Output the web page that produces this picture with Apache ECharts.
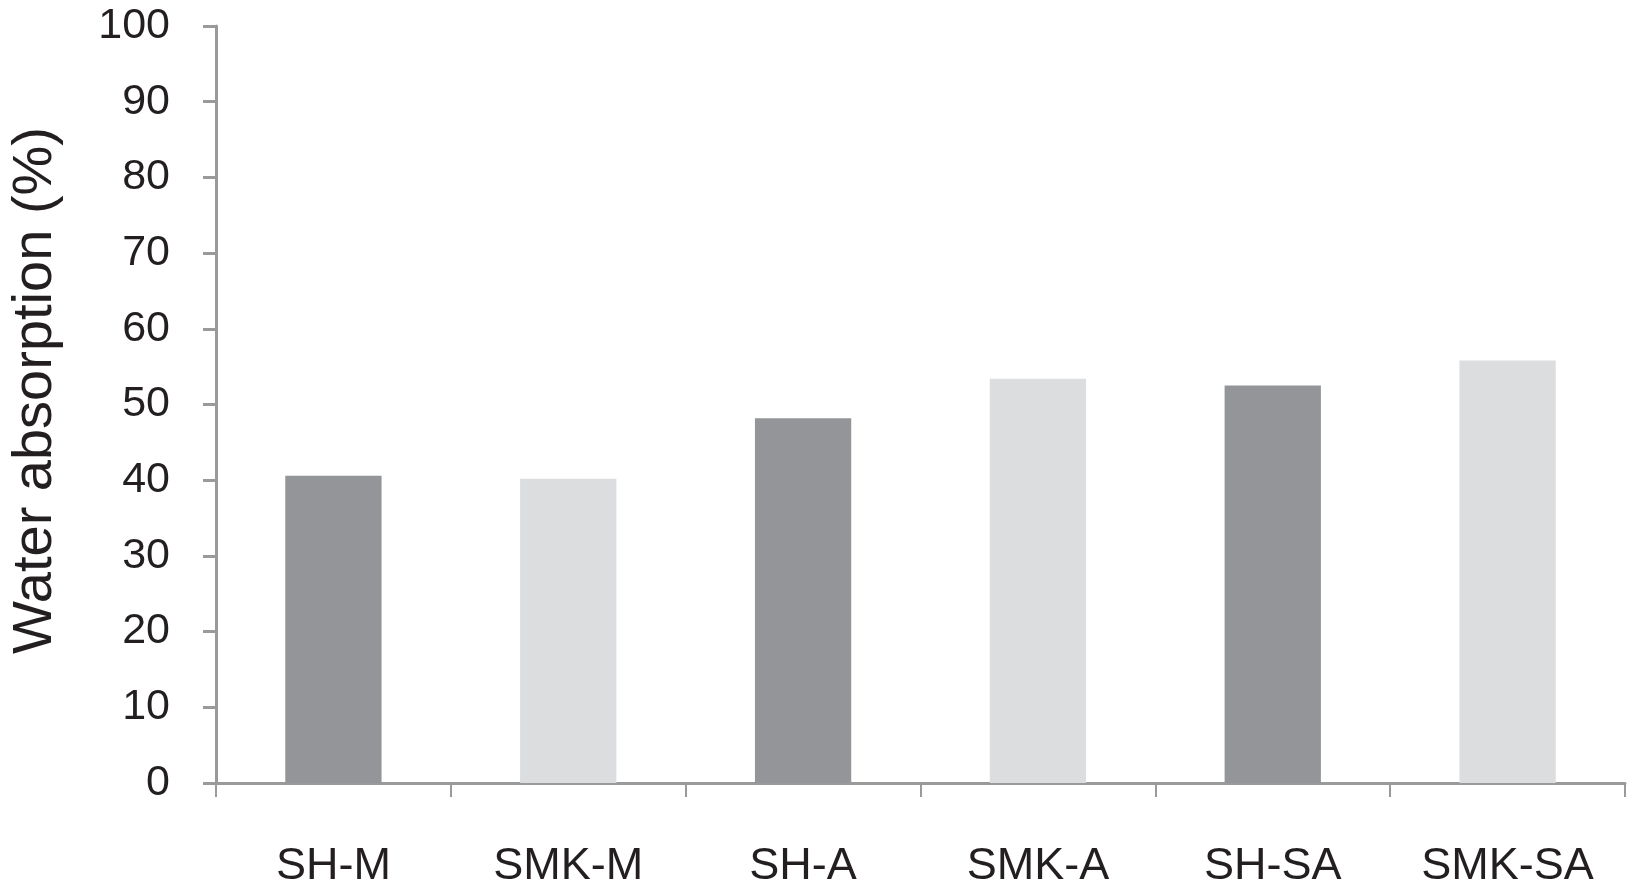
<!DOCTYPE html>
<html>
<head>
<meta charset="utf-8">
<script src="https://cdn.jsdelivr.net/npm/echarts@6/dist/echarts.min.js"></script>
<style>
html,body{margin:0;padding:0;background:#fff;}
#chart{width:1627px;height:893px;}
</style>
</head>
<body>
<div id="chart"></div>
<script>
const categories = ['SH-M', 'SMK-M', 'SH-A', 'SMK-A', 'SH-SA', 'SMK-SA'];
const values = [40.6, 40.2, 48.2, 53.4, 52.5, 55.8];
const barColors = ['#939598', '#dcdddf', '#939598', '#dcdddf', '#939598', '#dcdddf'];
const yTicks = [0, 10, 20, 30, 40, 50, 60, 70, 80, 90, 100];
const yTitle = 'Water absorption (%)';

const chart = echarts.init(document.getElementById('chart'), null, {renderer: 'canvas'});
const axisColor = '#9a9a9a';
const textColor = '#231f20';
const font = '"Liberation Sans", Arial, Helvetica, sans-serif';

chart.setOption({
  animation: false,
  backgroundColor: '#ffffff',
  grid: {left: 216, right: 2, top: 26, bottom: 110, containLabel: false},
  xAxis: {
    type: 'category',
    data: categories,
    boundaryGap: true,
    axisLine: {show: true, lineStyle: {color: axisColor, width: 3}},
    axisTick: {show: true, length: 14, lineStyle: {color: axisColor, width: 2}},
    axisLabel: {color: textColor, fontSize: 45, fontFamily: font, margin: 61}
  },
  yAxis: {
    type: 'value',
    min: yTicks[0],
    max: yTicks[yTicks.length - 1],
    interval: 10,
    name: yTitle,
    nameLocation: 'middle',
    nameGap: 152,
    nameTextStyle: {color: textColor, fontSize: 56, fontFamily: font, padding: [0, 0, 0, 28]},
    axisLine: {show: true, lineStyle: {color: axisColor, width: 3}},
    axisTick: {show: true, length: 13, lineStyle: {color: axisColor, width: 3}},
    axisLabel: {color: textColor, fontSize: 43, fontFamily: font, margin: 46},
    splitLine: {show: false}
  },
  series: [{
    type: 'bar',
    barWidth: '41%',
    data: values.map((v, i) => ({value: v, itemStyle: {color: barColors[i]}}))
  }]
});
</script>
</body>
</html>
